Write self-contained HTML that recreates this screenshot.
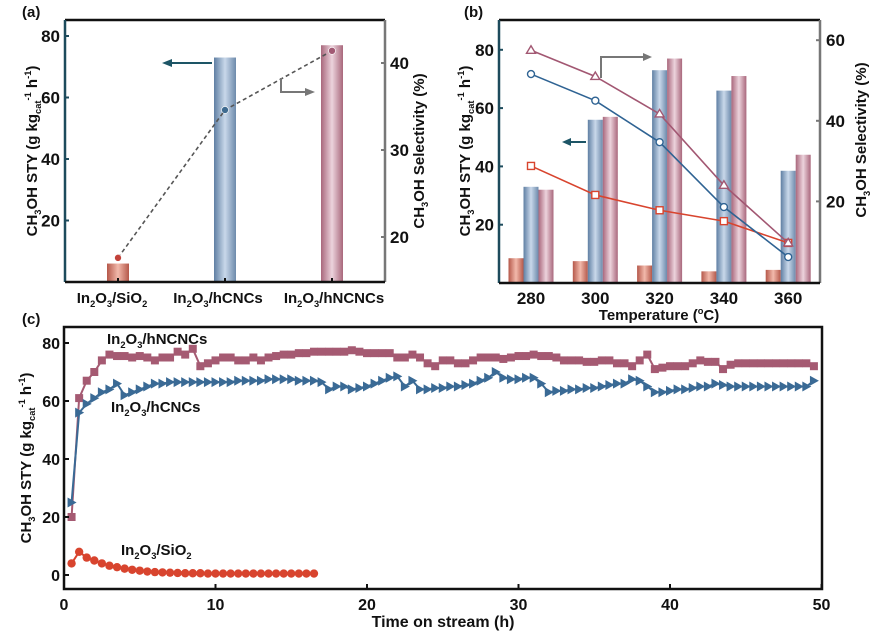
<!DOCTYPE html>
<html><head><meta charset="utf-8">
<style>
html,body{margin:0;padding:0;background:#fff;}
svg{display:block;font-family:"Liberation Sans",Arial,sans-serif;font-weight:bold;}
</style></head>
<body>
<svg id="fig" width="894" height="644" viewBox="0 0 894 644" xmlns="http://www.w3.org/2000/svg">
<defs>
<linearGradient id="gBlue" x1="0" x2="1" y1="0" y2="0">
<stop offset="0" stop-color="#5f7fa3"/><stop offset="0.5" stop-color="#c9d8ea"/><stop offset="1" stop-color="#6d8aab"/></linearGradient>
<linearGradient id="gPink" x1="0" x2="1" y1="0" y2="0">
<stop offset="0" stop-color="#a9677c"/><stop offset="0.5" stop-color="#ecd3dc"/><stop offset="1" stop-color="#a9677c"/></linearGradient>
<linearGradient id="gRed" x1="0" x2="1" y1="0" y2="0">
<stop offset="0" stop-color="#b5584a"/><stop offset="0.5" stop-color="#f2b9ab"/><stop offset="1" stop-color="#b5584a"/></linearGradient>
</defs>
<g id="pa"></g>
<g id="pb"></g>
<g id="pc"></g>
</svg>
<script>
// ---- Panel (a) data ----
const aCats = ["SiO2", "hCNCs", "hNCNCs"];
const aSTY = [6, 73, 77];
const aSel = [17.6, 34.6, 41.4];
const aLeftTicks = [20, 40, 60, 80];
const aRightTicks = [20, 30, 40];
// ---- Panel (b) data ----
const bTemps = [280, 300, 320, 340, 360];
const bSTYSiO2 = [8.5, 7.5, 6, 4, 4.5];
const bSTYhCNCs = [33, 56, 73, 66, 38.5];
const bSTYhNCNCs = [32, 57, 77, 71, 44];
const bSelSiO2 = [28.8, 21.6, 17.8, 15.1, 9.7];
const bSelhCNCs = [51.6, 45, 34.7, 18.6, 6.2];
const bSelhNCNCs = [57.5, 51, 41.7, 24, 9.7];
const bLeftTicks = [20, 40, 60, 80];
const bRightTicks = [20, 40, 60];
// ---- Panel (c) data ----
const cTimeN = [0.5,1,1.5,2,2.5,3,3.5,4,4.5,5,5.5,6,6.5,7,7.5,8,8.5,9,9.5,10,10.5,11,11.5,12,12.5,13,13.5,14,14.5,15,15.5,16,16.5,17,17.5,18,18.5,19,19.5,20,20.5,21,21.5,22,22.5,23,23.5,24,24.5,25,25.5,26,26.5,27,27.5,28,28.5,29,29.5,30,30.5,31,31.5,32,32.5,33,33.5,34,34.5,35,35.5,36,36.5,37,37.5,38,38.5,39,39.5,40,40.5,41,41.5,42,42.5,43,43.5,44,44.5,45,45.5,46,46.5,47,47.5,48,48.5,49,49.5];
const cHNCNCs = [20,61,67,70,74,76,75.5,75.5,75,75.5,75,74,75,75,77,76,78,72,73,74,75,75,74,74,75,74,75,75.5,76,76,76.5,76.5,77,77,77,77,77,77.5,77,76.5,76.5,76.5,76.5,75,75,76,75,73,72,74,74,73,73,74,75,75,75,74.5,75,75.5,75.5,76,75.5,75.5,75,74,74,74,73.5,73.5,74,74,73,73,72,74,76,71,71.5,72,72,72,73,74,73.5,73.5,71,72.5,73,73,73,73,73,73,73,73,73,73,72];
const cTimeC = cTimeN;
const cHCNCs = [25,56,59,61,63,64,66,62,63,64,65,66,66,66.5,66.5,66.5,66.5,66.5,66.5,66.5,66.5,66.5,67,67,67,67,67.5,67.5,67.5,67.5,67,67,67,66.5,64,65,65,64,64.5,65,66,67,68,68.5,65,67,64,64,64.5,64.5,65,65,65.5,66,67,68,70,68,67.5,67.5,68,68,66,63,63.5,63.5,64,64,64.5,64.5,65,65.5,66,66,67.5,67,65,63,63,63.5,64,64,64.5,65,65,66,65.5,65,65,65,65,65,65,65,65,65,65,65,67];
const cTimeS = [0.5,1,1.5,2,2.5,3,3.5,4,4.5,5,5.5,6,6.5,7,7.5,8,8.5,9,9.5,10,10.5,11,11.5,12,12.5,13,13.5,14,14.5,15,15.5,16,16.5];
const cSiO2 = [4,8,6,5,4,3.2,2.7,2.2,1.8,1.5,1.2,1,0.9,0.8,0.7,0.6,0.6,0.6,0.5,0.5,0.5,0.5,0.5,0.5,0.5,0.5,0.5,0.5,0.5,0.5,0.5,0.5,0.5];
const cYTicks = [0, 20, 40, 60, 80];
const cXTicks = [0, 10, 20, 30, 40, 50];

const NS = "http://www.w3.org/2000/svg";
function mk(parent, tag, attrs, text) {
  const e = document.createElementNS(NS, tag);
  for (const k in attrs) e.setAttribute(k, attrs[k]);
  if (text !== undefined) e.textContent = text;
  parent.appendChild(e);
  return e;
}
function rich(parent, x, y, parts, size, anchor, rot) {
  const t = mk(parent, "text", {x: x, y: y, "font-size": size, "text-anchor": anchor || "start", fill: "#111"});
  if (rot) t.setAttribute("transform", "rotate(" + rot + " " + x + " " + y + ")");
  parts.forEach(p => {
    const s = mk(t, "tspan", {}, p[0]);
    if (p[1] === "sub") { s.setAttribute("font-size", size * 0.62); s.setAttribute("dy", size * 0.28); }
    else if (p[1] === "sup") { s.setAttribute("font-size", size * 0.62); s.setAttribute("dy", -size * 0.4); }
    else if (p[1] === "back") { s.setAttribute("dy", p[2]); }
  });
  return t;
}
function styTitle(parent, x, y, size) {
  const t = rich(parent, x, y, [["CH","n"],["3","sub"],["OH STY (g kg","back",-size*0.28],["cat","sub"],["-1","back",0],[" h","back",0],["-1","sup"],[")","back",size*0.4]], size, "middle", -90);
  const sp = t.querySelectorAll("tspan");
  sp[4].setAttribute("font-size", size*0.62); sp[4].setAttribute("dy", -size*0.68);
  sp[5].setAttribute("dy", size*0.4);
  sp[6].setAttribute("dy", -size*0.4);
  return t;
}
function selTitle(parent, x, y, size) {
  return rich(parent, x, y, [["CH","n"],["3","sub"],["OH Selectivity (%)","back",-size*0.28]], size, "middle", -90);
}
function catLabel(parent, x, y, a, b) {
  const parts = [["In","n"],["2","sub"],["O","back",-15*0.28],["3","sub"],["/" + a,"back",-15*0.28]];
  if (b) { parts.push([b,"sub"]); }
  return rich(parent, x, y, parts, 15, "middle");
}

// ============ Panel (a) ============
(function(){
  const g = document.getElementById("pa");
  const L = 65, R = 385, T = 20, B = 282;
  const yL = v => B - v * (B - 36) / 80;
  const yR = v => 237 - (v - 20) * 8.7;
  const xC = i => [118, 225, 332][i];
  const fills = ["url(#gRed)", "url(#gBlue)", "url(#gPink)"];
  aSTY.forEach((v, i) => {
    const r = mk(g, "rect", {x: xC(i) - 11, y: yL(v), width: 22, height: B - yL(v), fill: fills[i]});
    
    
  });
  const pts = aSel.map((v, i) => xC(i) + "," + yR(v)).join(" ");
  const pl = mk(g, "polyline", {points: pts, fill: "none", stroke: "#555", "stroke-width": 1.6, "stroke-dasharray": "4,3"});
  
  
  const dc = ["#c2423a", "#3f6b90", "#a25a74"];
  aSel.forEach((v, i) => {
    const c = mk(g, "circle", {cx: xC(i), cy: yR(v), r: 3.5, fill: dc[i], stroke: "#fff", "stroke-width": 0.6});
    
    
  });
  mk(g, "line", {x1: L, y1: T, x2: R, y2: T, stroke: "#111", "stroke-width": 2.5});
  mk(g, "line", {x1: L, y1: T, x2: L, y2: B, stroke: "#1d4b5c", "stroke-width": 2.5});
  mk(g, "line", {x1: R, y1: T, x2: R, y2: B, stroke: "#777", "stroke-width": 2.5});
  mk(g, "line", {x1: L, y1: B, x2: R, y2: B, stroke: "#111", "stroke-width": 2.5});
  aLeftTicks.forEach(v => {
    mk(g, "line", {x1: L, y1: yL(v), x2: L + 4, y2: yL(v), stroke: "#1d4b5c", "stroke-width": 2});
    mk(g, "text", {x: L - 5, y: yL(v) + 6, "font-size": 17, "text-anchor": "end", fill: "#111"}, v);
  });
  aRightTicks.forEach(v => {
    mk(g, "line", {x1: R - 4, y1: yR(v), x2: R, y2: yR(v), stroke: "#777", "stroke-width": 2});
    mk(g, "text", {x: R + 5, y: yR(v) + 6, "font-size": 17, fill: "#111"}, v);
  });
  [0,1,2].forEach(i => mk(g, "line", {x1: xC(i), y1: B - 4, x2: xC(i), y2: B, stroke: "#111", "stroke-width": 2}));
  mk(g, "text", {x: 22, y: 17, "font-size": 15, fill: "#111"}, "(a)");
  const yt = styTitle(g, 37, 151, 15);  
  const rt = selTitle(g, 424, 151, 15);  
  catLabel(g, 112, 303, "SiO", "2");
  catLabel(g, 218, 303, "hCNCs");
  catLabel(g, 334, 303, "hNCNCs");
  mk(g, "line", {x1: 212, y1: 63, x2: 170, y2: 63, stroke: "#1d5566", "stroke-width": 2});
  mk(g, "polygon", {points: "162,63 172,59 172,67", fill: "#1d5566"});
  mk(g, "polyline", {points: "281,78 281,92 307,92", fill: "none", stroke: "#777", "stroke-width": 2});
  mk(g, "polygon", {points: "315,92 305,88 305,96", fill: "#777"});
})();

// ============ Panel (b) ============
(function(){
  const g = document.getElementById("pb");
  const L = 499, R = 820, T = 20, B = 283;
  const yL = v => B - v * 2.915;
  const yR = v => 282 - v * 4.03;
  const xC = i => 531 + i * 64.3;
  const series = [[bSTYSiO2, "url(#gRed)", -15, "sio2"], [bSTYhCNCs, "url(#gBlue)", 0, "hcncs"], [bSTYhNCNCs, "url(#gPink)", 15, "hncncs"]];
  series.forEach(s => {
    s[0].forEach((v, i) => {
      const r = mk(g, "rect", {x: xC(i) + s[2] - 7.5, y: yL(v), width: 15, height: B - yL(v), fill: s[1]});
      
      
    });
  });
  const lines = [[bSelSiO2, "#d8442e", "sq", "sio2"], [bSelhCNCs, "#2f6393", "ci", "hcncs"], [bSelhNCNCs, "#a25772", "tr", "hncncs"]];
  lines.forEach(s => {
    const pl = mk(g, "polyline", {points: s[0].map((v, i) => xC(i) + "," + yR(v)).join(" "), fill: "none", stroke: s[1], "stroke-width": 1.6});
    
    
    s[0].forEach((v, i) => {
      const x = xC(i), y = yR(v);
      let m;
      if (s[2] === "sq") m = mk(g, "rect", {x: x - 3.5, y: y - 3.5, width: 7, height: 7, fill: "#fff", stroke: s[1], "stroke-width": 1.4});
      else if (s[2] === "ci") m = mk(g, "circle", {cx: x, cy: y, r: 3.5, fill: "#fff", stroke: s[1], "stroke-width": 1.4});
      else m = mk(g, "polygon", {points: x + "," + (y - 4.5) + " " + (x + 4.5) + "," + (y + 3) + " " + (x - 4.5) + "," + (y + 3), fill: "#fff", stroke: s[1], "stroke-width": 1.4});
      
      
    });
  });
  mk(g, "line", {x1: L, y1: T, x2: R, y2: T, stroke: "#111", "stroke-width": 2.5});
  mk(g, "line", {x1: L, y1: T, x2: L, y2: B, stroke: "#1d4b5c", "stroke-width": 2.5});
  mk(g, "line", {x1: R, y1: T, x2: R, y2: B, stroke: "#777", "stroke-width": 2.5});
  mk(g, "line", {x1: L, y1: B, x2: R, y2: B, stroke: "#111", "stroke-width": 2.5});
  bLeftTicks.forEach(v => {
    mk(g, "line", {x1: L, y1: yL(v), x2: L + 4, y2: yL(v), stroke: "#1d4b5c", "stroke-width": 2});
    mk(g, "text", {x: L - 5, y: yL(v) + 6, "font-size": 17, "text-anchor": "end", fill: "#111"}, v);
  });
  bRightTicks.forEach(v => {
    mk(g, "line", {x1: R - 4, y1: yR(v), x2: R, y2: yR(v), stroke: "#777", "stroke-width": 2});
    mk(g, "text", {x: R + 6, y: yR(v) + 6, "font-size": 17, fill: "#111"}, v);
  });
  bTemps.forEach((t, i) => {
    mk(g, "text", {x: xC(i), y: 304, "font-size": 17, "text-anchor": "middle", fill: "#111"}, t);
  });
  mk(g, "text", {x: 464, y: 17, "font-size": 15, fill: "#111"}, "(b)");
  const xt = rich(g, 659, 320, [["Temperature (","n"],["o","sup"],["C)","back",15*0.4]], 15, "middle");
   
  const yt = styTitle(g, 470, 151, 15);  
  const rt = selTitle(g, 866, 140, 15);  
  mk(g, "line", {x1: 586, y1: 142, x2: 570, y2: 142, stroke: "#1d5566", "stroke-width": 2});
  mk(g, "polygon", {points: "562,142 571,138 571,146", fill: "#1d5566"});
  mk(g, "polyline", {points: "601,78 601,57 644,57", fill: "none", stroke: "#777", "stroke-width": 2});
  mk(g, "polygon", {points: "652,57 643,53 643,61", fill: "#777"});
})();

// ============ Panel (c) ============
(function(){
  const g = document.getElementById("pc");
  const L = 64, R = 822, T = 327, B = 589;
  const x = t => L + t * 15.15;
  const y = v => 575 - v * 2.9;
  const pn = mk(g, "polyline", {points: cTimeN.map((t, i) => x(t) + "," + y(cHNCNCs[i])).join(" "), fill: "none", stroke: "#a55a72", "stroke-width": 2});
  
  
  cTimeN.forEach((t, i) => {
    const m = mk(g, "rect", {x: x(t) - 4, y: y(cHNCNCs[i]) - 4, width: 8, height: 8, fill: "#a55a72"});
    
    
  });
  const pc = mk(g, "polyline", {points: cTimeC.map((t, i) => x(t) + "," + y(cHCNCs[i])).join(" "), fill: "none", stroke: "#3a6a95", "stroke-width": 2});
  
  
  cTimeC.forEach((t, i) => {
    const px = x(t), py = y(cHCNCs[i]);
    const m = mk(g, "polygon", {points: (px - 4) + "," + (py - 5) + " " + (px + 5) + "," + py + " " + (px - 4) + "," + (py + 5), fill: "#3a6a95"});
    
    
  });
  const ps = mk(g, "polyline", {points: cTimeS.map((t, i) => x(t) + "," + y(cSiO2[i])).join(" "), fill: "none", stroke: "#d8442e", "stroke-width": 2});
  
  
  cTimeS.forEach((t, i) => {
    const m = mk(g, "circle", {cx: x(t), cy: y(cSiO2[i]), r: 4.2, fill: "#d8442e"});
    
    
  });
  mk(g, "rect", {x: L, y: T, width: R - L, height: B - T, fill: "none", stroke: "#111", "stroke-width": 2.5});
  cYTicks.forEach(v => {
    mk(g, "line", {x1: L, y1: y(v), x2: L + 5, y2: y(v), stroke: "#111", "stroke-width": 2});
    mk(g, "text", {x: L - 4, y: y(v) + 6, "font-size": 16, "text-anchor": "end", fill: "#111"}, v);
  });
  cXTicks.forEach(t => {
    mk(g, "line", {x1: x(t), y1: B - 5, x2: x(t), y2: B, stroke: "#111", "stroke-width": 2});
    mk(g, "text", {x: x(t), y: 610, "font-size": 16, "text-anchor": "middle", fill: "#111"}, t);
  });
  mk(g, "text", {x: 22, y: 324, "font-size": 15, fill: "#111"}, "(c)");
  const xt = mk(g, "text", {x: 443, y: 627, "font-size": 16, "text-anchor": "middle", fill: "#111"}, "Time on stream (h)");
   
  const yt = styTitle(g, 31, 458, 15);  
  const l1 = rich(g, 107, 344, [["In","n"],["2","sub"],["O","back",-15*0.28],["3","sub"],["/hNCNCs","back",-15*0.28]], 15, "start");
   
  const l2 = rich(g, 111, 412, [["In","n"],["2","sub"],["O","back",-15*0.28],["3","sub"],["/hCNCs","back",-15*0.28]], 15, "start");
   
  const l3 = rich(g, 121, 555, [["In","n"],["2","sub"],["O","back",-15*0.28],["3","sub"],["/SiO","back",-15*0.28],["2","sub"]], 15, "start");
   
})();
</script>
</body></html>
